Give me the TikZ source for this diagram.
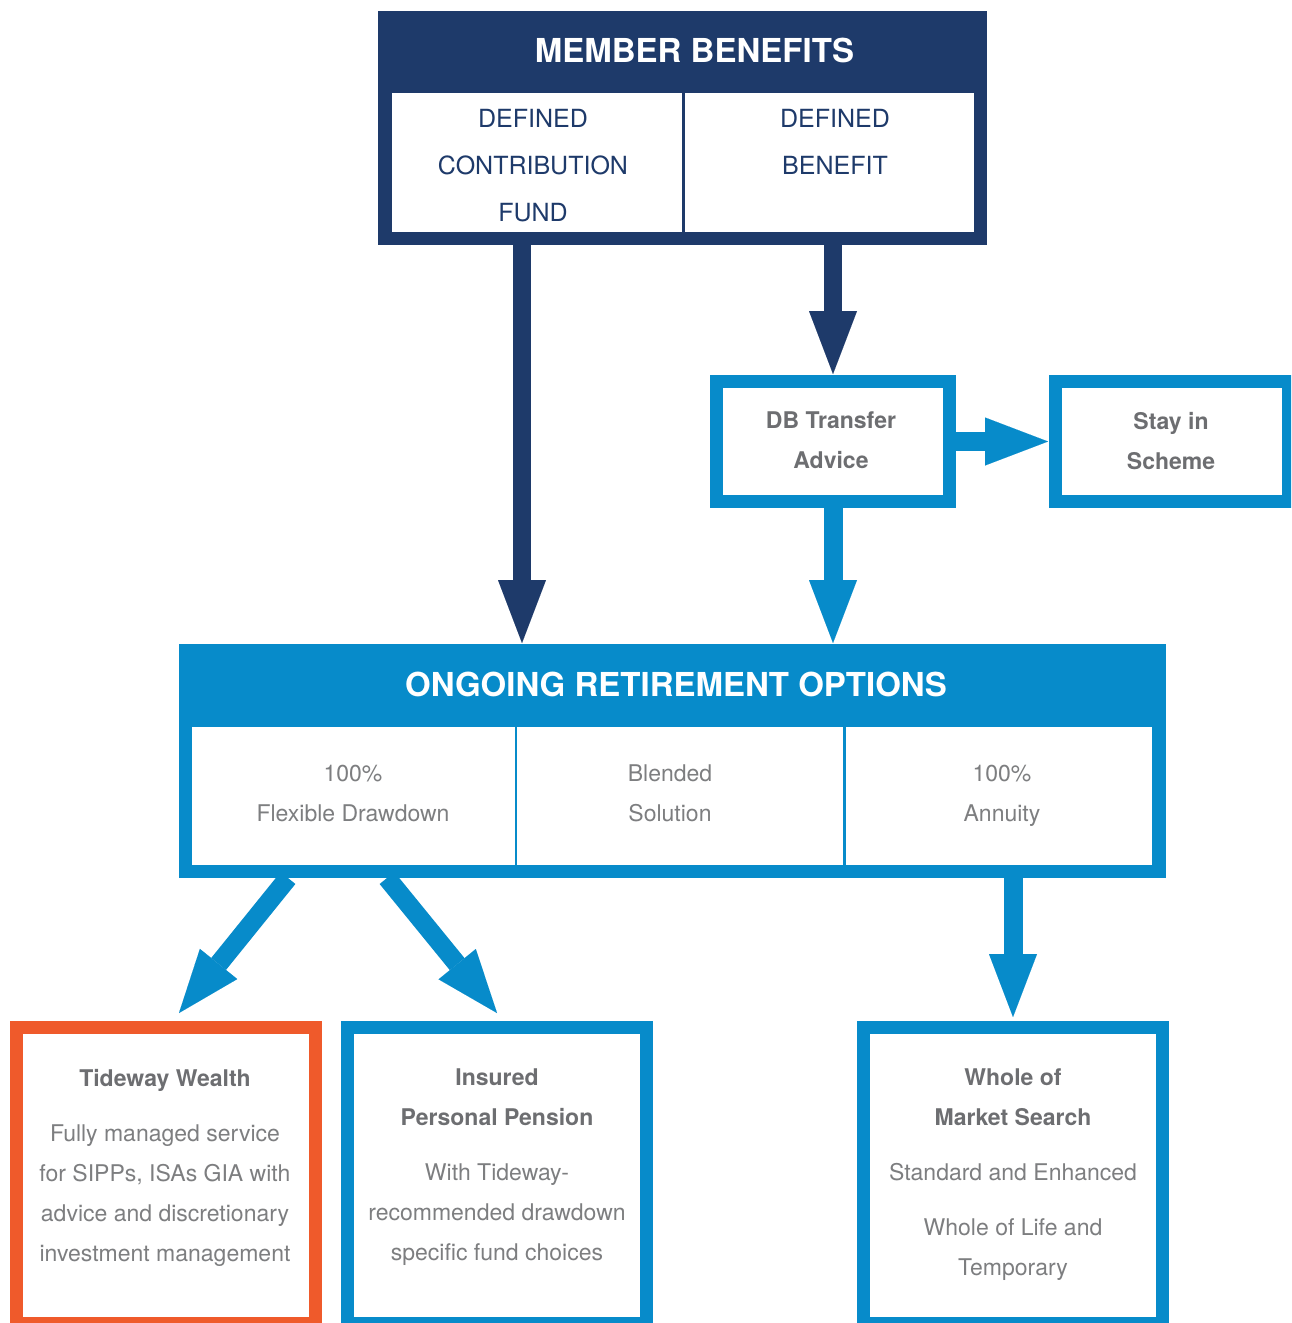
\documentclass[tikz,border=0pt]{standalone}
\usepackage{fontspec}
\setmainfont{TeX Gyre Heros}
\usetikzlibrary{arrows.meta}
\definecolor{navy}{HTML}{1E3A6A}
\definecolor{cblue}{HTML}{078BCA}
\definecolor{corange}{HTML}{EF5A2B}
\definecolor{tgray}{HTML}{6D6E71}
\definecolor{lgray}{HTML}{7D7E80}
\begin{document}
\begin{tikzpicture}[x=1pt,y=-1pt,
  blk/.style={inner sep=0pt,outer sep=0pt,anchor=north west,draw=none},
  whitecell/.style={blk,fill=white},
  titletext/.style={inner sep=0pt,text=white,font=\fontsize{33}{40}\selectfont\bfseries},
  mbcell/.style={inner sep=0pt,anchor=north,align=center,text=navy,font=\fontsize{25}{47}\selectfont},
  boldlbl/.style={inner sep=0pt,anchor=north,align=center,text=tgray,font=\fontsize{23}{40}\selectfont\bfseries},
  bodylbl/.style={inner sep=0pt,anchor=north,align=center,text=lgray,font=\fontsize{23}{40}\selectfont},
  navyarrow/.style={draw=navy,line width=18pt,-{Triangle[length=63pt,width=48pt,line width=0.01pt]}},
  bluearrow/.style={draw=cblue,line width=19pt,-{Triangle[length=63pt,width=48pt,line width=0.01pt]}}
]
\useasboundingbox (0,0) rectangle (1291,1323);
\clip (0,0) rectangle (1291,1323);
\fill[white] (0,0) rectangle (1291,1323);

% MEMBER BENEFITS
\node[blk,fill=navy,minimum width=609pt,minimum height=234pt] (mb) at (378,11) {};
\node[whitecell,minimum width=290pt,minimum height=139pt] (dccell) at (392,93) {};
\node[whitecell,minimum width=289pt,minimum height=139pt] (dbcell) at (685,93) {};
\node[titletext] (mbt) at (694.5,50) {MEMBER BENEFITS};
\node[mbcell] (dct) at (533,109) {DEFINED\\CONTRIBUTION\\FUND};
\node[mbcell] (dbtx) at (835,109) {DEFINED\\BENEFIT};

% DB transfer advice
\node[blk,fill=cblue,minimum width=246pt,minimum height=133pt] (dbt) at (710,375) {};
\node[whitecell,minimum width=220pt,minimum height=107pt] (dbtin) at (723,388) {};
\node[boldlbl] (dbtt) at (831,412) {DB Transfer\\Advice};

% Stay in scheme
\node[blk,fill=cblue,minimum width=246pt,minimum height=133pt] (stay) at (1049,375) {};
\node[whitecell,minimum width=220pt,minimum height=107pt] (stayin) at (1062,388) {};
\node[boldlbl] (stayt) at (1171,412) {Stay in\\Scheme};

% ONGOING RETIREMENT OPTIONS
\node[blk,fill=cblue,minimum width=987pt,minimum height=234pt] (oro) at (179,644) {};
\node[whitecell,minimum width=323pt,minimum height=138pt] (c1) at (192,727) {};
\node[whitecell,minimum width=326pt,minimum height=138pt] (c2) at (517,727) {};
\node[whitecell,minimum width=306pt,minimum height=138pt] (c3) at (846,727) {};
\node[titletext] (orot) at (676,684) {ONGOING RETIREMENT OPTIONS};
\node[bodylbl] (c1t) at (353,765) {100\%\\Flexible Drawdown};
\node[bodylbl] (c2t) at (670,765) {Blended\\Solution};
\node[bodylbl] (c3t) at (1002,765) {100\%\\Annuity};

% Bottom boxes
\node[blk,fill=corange,minimum width=312pt,minimum height=309pt] (tw) at (10,1021) {};
\node[whitecell,minimum width=286pt,minimum height=283pt] (twin) at (23,1034) {};
\node[bodylbl] (twt) at (165,1069) {{\color{tgray}\bfseries Tideway Wealth}\\[15pt]Fully managed service\\for SIPPs, ISAs GIA with\\advice and discretionary\\investment management};

\node[blk,fill=cblue,minimum width=312pt,minimum height=309pt] (ipp) at (341,1021) {};
\node[whitecell,minimum width=286pt,minimum height=283pt] (ippin) at (354,1034) {};
\node[bodylbl] (ippt) at (497,1069) {{\color{tgray}\bfseries Insured}\\{\color{tgray}\bfseries Personal Pension}\\[15pt]With Tideway-\\recommended drawdown\\specific fund choices};

\node[blk,fill=cblue,minimum width=312pt,minimum height=309pt] (wm) at (857,1021) {};
\node[whitecell,minimum width=286pt,minimum height=283pt] (wmin) at (870,1034) {};
\node[bodylbl] (wmt) at (1013,1069) {{\color{tgray}\bfseries Whole of}\\{\color{tgray}\bfseries Market Search}\\[15pt]Standard and Enhanced\\[15pt]Whole of Life and\\Temporary};

% Connectors
\draw[navyarrow] ([xshift=-160.5pt]mb.south) -- ([xshift=-160.5pt,yshift=1pt]mb.south |- oro.north);
\draw[navyarrow] ([xshift=150.5pt]mb.south) -- ([yshift=1pt]dbt.north);
\draw[bluearrow] (dbt.south) -- ([yshift=1pt]dbt.south |- oro.north);
\draw[bluearrow] (dbt.east) -- ([xshift=-1pt]stay.west);
\draw[bluearrow] ([xshift=-384.5pt]oro.south) -- ([xshift=13pt,yshift=8pt]tw.north);
\draw[bluearrow] ([xshift=-285.5pt]oro.south) -- ([yshift=8pt]ipp.north);
\draw[bluearrow] ([xshift=340.5pt]oro.south) -- ([yshift=4pt]wm.north);
\end{tikzpicture}
\end{document}
